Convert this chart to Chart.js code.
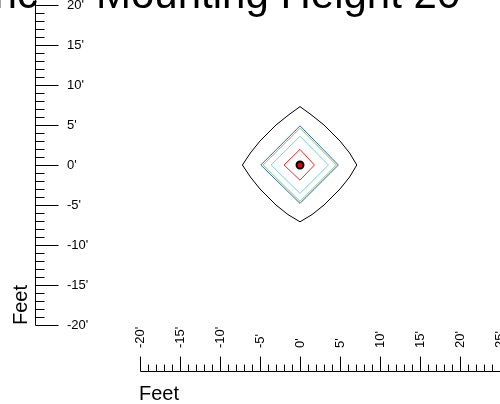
<!DOCTYPE html>
<html>
<head>
<meta charset="utf-8">
<script src="https://cdn.jsdelivr.net/npm/chart.js@4"></script>
<style>
  html, body { margin: 0; padding: 0; background: #fff; overflow: hidden; }
  canvas { display: block; }
</style>
</head>
<body>
<canvas id="c" width="500" height="404"></canvas>
<script>
// ---- data (feet) ----
const titleLeft = "Isometric";
const titleRight = "Mounting Height 20' - Footcandles";
const xAxisTitle = "Feet";
const yAxisTitle = "Feet";

const xTickValues = [-20, -15, -10, -5, 0, 5, 10, 15, 20, 25];
const xTickLabels = ["-20'", "-15'", "-10'", "-5'", "0'", "5'", "10'", "15'", "20'", "25'"];
const yTickValues = [-20, -15, -10, -5, 0, 5, 10, 15, 20];
const yTickLabels = ["-20'", "-15'", "-10'", "-5'", "0'", "5'", "10'", "15'", "20'"];

const contourBlackX = [0, 1.5, 3.0, 4.0, 5.0, 6.2, 7.1, 6.2, 5.0, 4.0, 3.0, 1.5, 0, -1.5, -3.0, -4.0, -5.0, -6.2, -7.2, -6.2, -5.0, -4.0, -3.0, -1.5, 0];
const contourBlackY = [7.3, 6.2, 5.0, 4.0, 3.0, 1.5, 0, -1.5, -3.0, -4.0, -5.0, -6.2, -7.1, -6.2, -5.0, -4.0, -3.0, -1.5, 0, 1.5, 3.0, 4.0, 5.0, 6.2, 7.3];
const contourBlueX = [0, 4.8, 0, -4.9, 0];
const contourBlueY = [4.9, 0, -4.8, 0, 4.9];
const contourGreenX = [0, 4.55, 0, -4.6, 0];
const contourGreenY = [4.6, 0, -4.55, 0, 4.6];
const contourCyanX = [0, 3.55, 0, -3.6, 0];
const contourCyanY = [3.6, 0, -3.55, 0, 3.6];
const contourRedX = [0, 1.8, 0, -2.0, 0];
const contourRedY = [1.95, 0, -1.9, 0, 1.95];
const fixtureX = [0];
const fixtureY = [0];

function pts(xs, ys) { return xs.map((x, i) => ({ x: x, y: ys[i] })); }

function lineSet(xs, ys, color) {
  return {
    data: pts(xs, ys),
    showLine: true,
    borderColor: color,
    borderWidth: 1,
    pointRadius: 0,
    pointHoverRadius: 0,
    fill: false,
    tension: 0,
    clip: false
  };
}

const FONT = "'Liberation Sans', Arial, Helvetica, sans-serif";

const axesPlugin = {
  id: 'customAxes',
  afterDraw(chart) {
    const ctx = chart.ctx;
    const xs = chart.scales.x, ys = chart.scales.y;
    ctx.save();
    ctx.strokeStyle = '#000';
    ctx.fillStyle = '#000';
    ctx.lineWidth = 1;

    // ---- Y axis (line at x=35, ticks to the right) ----
    const yAxisX = 35.5;
    const yBottom = ys.getPixelForValue(-20);
    ctx.beginPath();
    ctx.moveTo(yAxisX, 0);
    ctx.lineTo(yAxisX, Math.round(yBottom) + 0.5);
    ctx.stroke();
    for (let v = -20; v <= 21; v += 1) {
      const py = Math.round(ys.getPixelForValue(v)) + 0.5;
      const major = (v % 5 === 0);
      ctx.beginPath();
      ctx.moveTo(yAxisX, py);
      ctx.lineTo(yAxisX + (major ? 23 : 9), py);
      ctx.stroke();
    }
    ctx.font = '13px ' + FONT;
    ctx.textAlign = 'left';
    ctx.textBaseline = 'middle';
    yTickValues.forEach((v, i) => {
      ctx.fillText(yTickLabels[i], 67, ys.getPixelForValue(v));
    });

    // ---- X axis (line at y=372, ticks upward, labels above) ----
    const xAxisY = 371.5;
    const xLeft = xs.getPixelForValue(-20);
    ctx.beginPath();
    ctx.moveTo(Math.round(xLeft) + 0.5, xAxisY);
    ctx.lineTo(chart.width, xAxisY);
    ctx.stroke();
    for (let v = -20; v <= 26; v += 1) {
      const px = Math.round(xs.getPixelForValue(v)) + 0.5;
      const major = (v % 5 === 0);
      ctx.beginPath();
      ctx.moveTo(px, xAxisY);
      ctx.lineTo(px, xAxisY - (major ? 15 : 7));
      ctx.stroke();
    }
    ctx.font = '13px ' + FONT;
    xTickValues.forEach((v, i) => {
      const px = xs.getPixelForValue(v);
      ctx.save();
      ctx.translate(px, 348);
      ctx.rotate(-Math.PI / 2);
      ctx.textAlign = 'left';
      ctx.textBaseline = 'middle';
      ctx.fillText(xTickLabels[i], 0, 0);
      ctx.restore();
    });

    // ---- axis titles ----
    ctx.font = '20px ' + FONT;
    ctx.textAlign = 'left';
    ctx.textBaseline = 'alphabetic';
    ctx.fillText(xAxisTitle, 139, 400);
    ctx.save();
    ctx.translate(27, 325);
    ctx.rotate(-Math.PI / 2);
    ctx.fillText(yAxisTitle, 0, 0);
    ctx.restore();

    // ---- chart title (cut off at top) ----
    ctx.font = '42px ' + FONT;
    ctx.textBaseline = 'alphabetic';
    ctx.textAlign = 'right';
    ctx.fillText(titleLeft, 38, 8);
    ctx.textAlign = 'left';
    ctx.fillText(titleRight, 96, 8);

    ctx.restore();
  }
};

new Chart(document.getElementById('c'), {
  type: 'scatter',
  data: {
    datasets: [
      lineSet(contourBlackX, contourBlackY, '#000000'),
      lineSet(contourBlueX, contourBlueY, '#3f5fc4'),
      lineSet(contourGreenX, contourGreenY, '#7ecb62'),
      lineSet(contourCyanX, contourCyanY, '#6fd3e6'),
      lineSet(contourRedX, contourRedY, '#f02a2a'),
      {
        data: pts(fixtureX, fixtureY),
        showLine: false,
        pointRadius: 3.5,
        pointHoverRadius: 3.5,
        pointBorderWidth: 2,
        pointBorderColor: '#000',
        pointBackgroundColor: '#e00000',
        clip: false
      }
    ]
  },
  options: {
    responsive: false,
    animation: false,
    events: [],
    layout: { autoPadding: false, padding: { left: 140, right: 0, top: 5, bottom: 79 } },
    scales: {
      x: { type: 'linear', min: -20, max: 25, display: false },
      y: { type: 'linear', min: -20, max: 20, display: false }
    },
    plugins: {
      legend: { display: false },
      tooltip: { enabled: false },
      title: { display: false }
    }
  },
  plugins: [axesPlugin]
});
</script>
</body>
</html>
